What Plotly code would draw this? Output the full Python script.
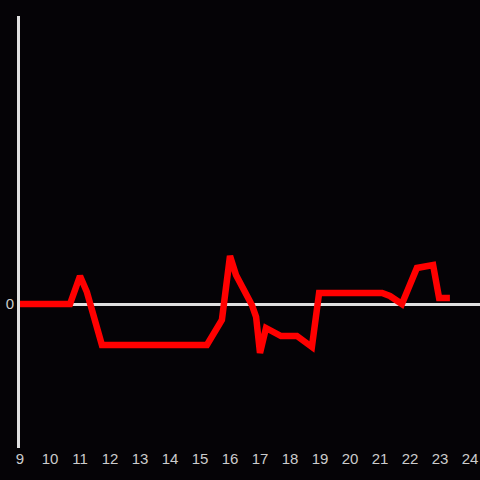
import plotly.graph_objects as go

hours = [9.0, 10.667, 11.0, 11.23, 11.73, 15.23, 15.73, 16.0, 16.2, 16.73, 16.87, 17.0,
         17.2, 17.7, 18.23, 18.73, 18.97, 21.07, 21.33, 21.73, 22.23, 22.77, 22.97, 23.33]
values = [0, 0, 28, 12, -41, -41, -16, 48, 29, -1, -13, -49,
          -24, -32, -32, -43, 11, 11, 8, 0, 36, 39, 6, 6]
x_ticks = list(range(9, 25))

fig = go.Figure()
fig.add_trace(go.Scatter(x=hours, y=values, mode="lines",
                         line=dict(color="#ff0000", width=6.5)))

fig.update_layout(
    width=480, height=480,
    paper_bgcolor="#050306", plot_bgcolor="#050306",
    margin=dict(l=20, r=0, t=16, b=32),
    showlegend=False,
    font=dict(family="Liberation Sans, Arial", size=15, color="#cccccc"),
    xaxis=dict(range=[9, 24 + 1 / 3], tickvals=x_ticks, ticktext=[str(t) for t in x_ticks],
               showgrid=False, zeroline=False, showline=False, ticks="", automargin=False),
    yaxis=dict(range=[-144, 288], tickvals=[0], ticktext=["0"],
               showgrid=False, zeroline=True, zerolinecolor="#e0e0e0", zerolinewidth=3,
               showline=True, linecolor="#e0e0e0", linewidth=3, ticks="", automargin=False),
)
fig.write_html("out.html", config={"displayModeBar": False},
               post_script="document.body.style.margin='0';document.body.style.background='#050306';")
